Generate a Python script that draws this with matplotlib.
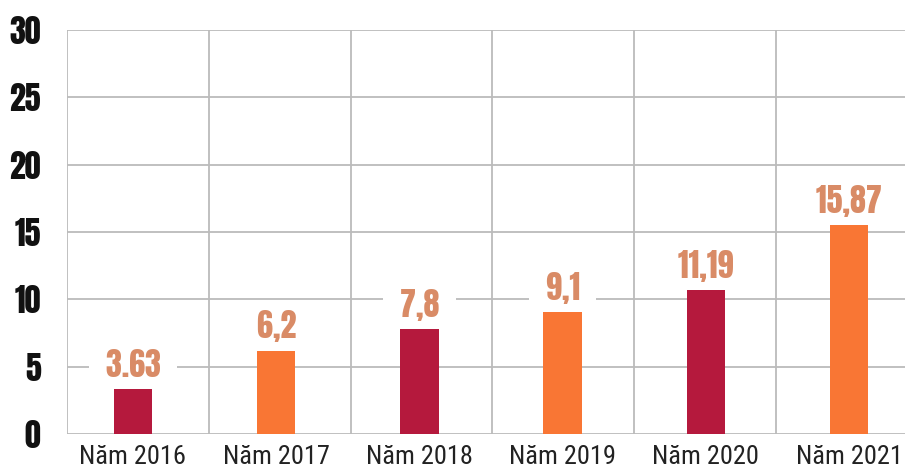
import numpy as np
import matplotlib
matplotlib.use("Agg")
import matplotlib.pyplot as plt

# data
years = ["Năm 2016", "Năm 2017", "Năm 2018", "Năm 2019", "Năm 2020", "Năm 2021"]
bar_heights = [3.34, 6.2, 7.8, 9.06, 10.7, 15.5]
value_labels = ["3.63", "6,2", "7,8", "9,1", "11,19", "15,87"]
y_ticks = [0, 5, 10, 15, 20, 25, 30]

crimson = "#B5193D"
orange = "#F97634"
label_col = "#D98B66"
grid_col = "#BBBBBB"

heavy = ["Anton", "Fjalla One", "Oswald", "DejaVu Sans"]
narrow = ["Roboto Condensed", "Archivo Narrow", "PT Sans Narrow", "DejaVu Sans"]

fig = plt.figure(figsize=(9.05, 4.71), dpi=100)
ax = fig.add_axes([67 / 905, 37 / 471, 838 / 905, 404 / 471])

x = np.arange(len(years))
colors = [crimson if i % 2 == 0 else orange for i in range(len(years))]

# grid lines first, under everything
for yv in y_ticks:
    ax.axhline(yv, color=grid_col, lw=1.3, zorder=0)
for xv in np.arange(6) * 0.99 - 0.46:
    ax.axvline(xv, color=grid_col, lw=1.3, zorder=0)

ax.bar(x, bar_heights, width=0.27, color=colors, zorder=2)

# value labels, white box cuts the grid line behind
for xi, h, lab in zip(x, bar_heights, value_labels):
    ax.text(xi, h + 0.9, "  " + lab + "  ", ha="center", va="baseline",
            fontsize=23, color=label_col, family=heavy,
            bbox=dict(boxstyle="square,pad=0.05", fc="white", ec="none"),
            zorder=3)

ax.set_xlim(-0.46, 5.39)
ax.set_ylim(0, 30)
ax.set_yticks(y_ticks)
ax.set_yticklabels([str(t) for t in y_ticks], fontsize=23,
                   family=heavy, color="#111111")
ax.set_xticks(x)
ax.set_xticklabels(years, fontsize=19, family=narrow, color="#222222")
ax.tick_params(axis="y", length=0, pad=19)
ax.tick_params(axis="x", length=0, pad=8)
for s in ax.spines.values():
    s.set_visible(False)

fig.savefig("out.png", dpi=100)
